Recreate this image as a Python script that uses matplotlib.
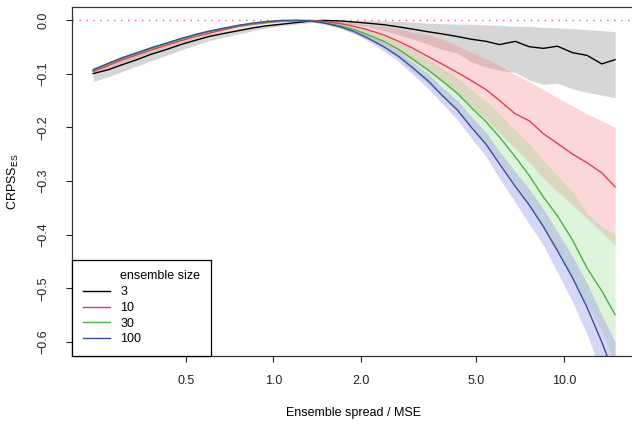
import matplotlib
matplotlib.use('Agg')
import matplotlib.pyplot as plt
from matplotlib.lines import Line2D

plt.rcParams['font.family'] = ['Liberation Sans', 'DejaVu Sans']

# spread/MSE ratio
spread = [0.24, 0.27, 0.30, 0.34, 0.38, 0.43, 0.48, 0.54, 0.60, 0.68, 0.76, 0.85, 0.95,
          1.07, 1.2, 1.35, 1.5, 1.7, 1.9, 2.1, 2.4, 2.7, 3.0, 3.4, 3.8, 4.3, 4.8, 5.4,
          6.0, 6.8, 7.6, 8.5, 9.5, 10.7, 12.0, 13.5, 15.0]

# ensemble size 3
crpss_3 = [-0.100, -0.093, -0.084, -0.074, -0.064, -0.055, -0.046, -0.038, -0.031, -0.025, -0.020, -0.015, -0.011,
           -0.008, -0.005, -0.002, -0.001, -0.002, -0.004, -0.006, -0.009, -0.013, -0.017, -0.022, -0.026, -0.031, -0.036, -0.040,
           -0.046, -0.040, -0.050, -0.053, -0.049, -0.061, -0.066, -0.082, -0.074]
upper_3 = [-0.088, -0.082, -0.074, -0.065, -0.056, -0.048, -0.040, -0.033, -0.026, -0.021, -0.016, -0.012, -0.008,
           -0.005, -0.003, -0.001, 0.0, 0.0, -0.001, -0.001, -0.002, -0.003, -0.004, -0.006, -0.007, -0.008, -0.008, -0.009,
           -0.010, -0.012, -0.012, -0.014, -0.015, -0.016, -0.018, -0.020, -0.022]
lower_3 = [-0.115, -0.106, -0.097, -0.086, -0.076, -0.066, -0.056, -0.047, -0.039, -0.032, -0.026, -0.020, -0.015,
           -0.011, -0.008, -0.005, -0.004, -0.006, -0.009, -0.012, -0.020, -0.028, -0.035, -0.045, -0.055, -0.062, -0.078, -0.088,
           -0.094, -0.098, -0.112, -0.120, -0.118, -0.128, -0.135, -0.140, -0.145]

# ensemble size 10
crpss_10 = [-0.096, -0.085, -0.075, -0.065, -0.056, -0.047, -0.039, -0.031, -0.025, -0.018, -0.012, -0.008, -0.005,
            -0.002, -0.001, -0.001, -0.003, -0.007, -0.012, -0.018, -0.028, -0.040, -0.052, -0.068, -0.082, -0.098, -0.113, -0.130,
            -0.150, -0.175, -0.188, -0.212, -0.230, -0.250, -0.266, -0.285, -0.311]
upper_10 = [-0.091, -0.080, -0.071, -0.061, -0.052, -0.044, -0.036, -0.029, -0.022, -0.016, -0.010, -0.006, -0.003,
            -0.001, 0.0, 0.0, -0.001, -0.003, -0.006, -0.009, -0.012, -0.017, -0.022, -0.028, -0.035, -0.048, -0.060, -0.072,
            -0.085, -0.102, -0.115, -0.130, -0.145, -0.160, -0.175, -0.188, -0.200]
lower_10 = [-0.101, -0.090, -0.080, -0.069, -0.060, -0.050, -0.042, -0.034, -0.028, -0.021, -0.015, -0.011, -0.007,
            -0.004, -0.003, -0.003, -0.006, -0.012, -0.020, -0.030, -0.045, -0.060, -0.075, -0.095, -0.115, -0.138, -0.160, -0.185,
            -0.210, -0.240, -0.265, -0.295, -0.320, -0.345, -0.370, -0.395, -0.420]

# ensemble size 30
crpss_30 = [-0.094, -0.082, -0.072, -0.062, -0.053, -0.044, -0.036, -0.028, -0.022, -0.016, -0.011, -0.007, -0.004,
            -0.002, -0.001, -0.002, -0.005, -0.011, -0.018, -0.027, -0.040, -0.055, -0.072, -0.093, -0.113, -0.137, -0.163, -0.190,
            -0.218, -0.255, -0.290, -0.330, -0.365, -0.410, -0.462, -0.505, -0.549]
upper_30 = [-0.091, -0.079, -0.069, -0.059, -0.050, -0.041, -0.033, -0.026, -0.020, -0.014, -0.009, -0.005, -0.002,
            -0.001, 0.0, -0.001, -0.003, -0.007, -0.012, -0.019, -0.030, -0.042, -0.055, -0.072, -0.090, -0.108, -0.130, -0.152,
            -0.175, -0.205, -0.230, -0.262, -0.290, -0.320, -0.360, -0.385, -0.400]
lower_30 = [-0.097, -0.085, -0.075, -0.065, -0.056, -0.047, -0.039, -0.031, -0.025, -0.018, -0.013, -0.009, -0.006,
            -0.004, -0.003, -0.004, -0.008, -0.015, -0.025, -0.036, -0.052, -0.072, -0.095, -0.118, -0.140, -0.168, -0.200, -0.232,
            -0.265, -0.305, -0.345, -0.390, -0.430, -0.480, -0.530, -0.580, -0.640]

# ensemble size 100
crpss_100 = [-0.093, -0.081, -0.071, -0.061, -0.052, -0.043, -0.035, -0.027, -0.021, -0.015, -0.010, -0.006, -0.003,
             -0.001, -0.001, -0.002, -0.006, -0.013, -0.022, -0.033, -0.050, -0.068, -0.088, -0.113, -0.140, -0.168, -0.200, -0.232,
             -0.268, -0.310, -0.345, -0.385, -0.430, -0.480, -0.535, -0.600, -0.665]
upper_100 = [-0.091, -0.079, -0.069, -0.059, -0.050, -0.041, -0.033, -0.026, -0.020, -0.014, -0.009, -0.005, -0.002,
             0.0, 0.0, -0.001, -0.004, -0.010, -0.018, -0.028, -0.043, -0.059, -0.077, -0.100, -0.125, -0.150, -0.180, -0.210,
             -0.245, -0.283, -0.315, -0.352, -0.395, -0.440, -0.490, -0.550, -0.600]
lower_100 = [-0.095, -0.083, -0.073, -0.063, -0.054, -0.045, -0.037, -0.029, -0.023, -0.017, -0.012, -0.008, -0.005,
             -0.003, -0.003, -0.004, -0.008, -0.016, -0.026, -0.038, -0.058, -0.078, -0.100, -0.127, -0.155, -0.186, -0.220, -0.255,
             -0.295, -0.340, -0.380, -0.420, -0.470, -0.525, -0.585, -0.660, -0.720]

sizes = ['3', '10', '30', '100']
line_colors = ['black', '#d9424f', '#4fae46', '#34509a']
band_colors = ['#9a9a9a', '#f77b7b', '#8fd98a', '#8a8ae6']
band_alpha = [0.40, 0.30, 0.30, 0.35]

xticks = [0.5, 1.0, 2.0, 5.0, 10.0]
xtick_labels = ['0.5', '1.0', '2.0', '5.0', '10.0']
yticks = [0.0, -0.1, -0.2, -0.3, -0.4, -0.5, -0.6]

fig = plt.figure(figsize=(6.32, 4.24), dpi=100)
ax = fig.add_axes([72 / 632, 68 / 424, 564 / 632, 349 / 424])

means = [crpss_3, crpss_10, crpss_30, crpss_100]
uppers = [upper_3, upper_10, upper_30, upper_100]
lowers = [lower_3, lower_10, lower_30, lower_100]

for i in range(4):
    ax.fill_between(spread, lowers[i], uppers[i], color=band_colors[i], alpha=band_alpha[i], lw=0)

ax.axhline(0, color='#e8606e', lw=1.0, ls=(0, (1, 4)))

for i in range(4):
    ax.plot(spread, means[i], color=line_colors[i], lw=1.0)

ax.set_xscale('log')
ax.set_xlim(0.203, 17.7)
ax.set_ylim(-0.626, 0.024)
ax.set_xticks(xticks)
ax.set_xticklabels(xtick_labels)
ax.minorticks_off()
ax.set_yticks(yticks)
ax.set_yticklabels([('%.1f' % v).replace('-', '\u2212') for v in yticks], rotation=90, va='center')

ax.tick_params(direction='out', length=4.5, width=0.8, labelsize=9, colors='#222222')
ax.tick_params(axis='y', pad=12)
ax.tick_params(axis='x', pad=9)
for s in ax.spines.values():
    s.set_linewidth(0.9)
    s.set_color('#333333')

ax.set_xlabel('Ensemble spread / MSE', fontsize=9)
ax.xaxis.set_label_coords(0.5, -0.163)
ax.xaxis.label.set_va('center')
ax.set_ylabel('CRPSS$_{\\mathregular{ES}}$', fontsize=9)
ax.yaxis.set_label_coords(-0.103, 0.5)
ax.yaxis.label.set_va('center')

handles = [Line2D([], [], color='none')]
labels = ['ensemble size']
for i in range(4):
    handles.append(Line2D([], [], color=line_colors[i], lw=1.0))
    labels.append(sizes[i])
leg = ax.legend(handles, labels, loc='lower left', borderaxespad=0, fontsize=9,
                frameon=True, fancybox=False, edgecolor='black', framealpha=1,
                borderpad=0.85, labelspacing=0.3, handlelength=2.2, handletextpad=0.8)
leg.get_frame().set_linewidth(0.9)

fig.savefig('out.png', dpi=100)
